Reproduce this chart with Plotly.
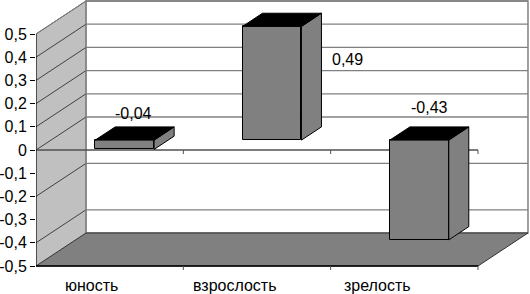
import plotly.graph_objects as go

# ---- data ----
categories = ["юность", "взрослость", "зрелость"]
values = [-0.04, 0.49, -0.43]
value_labels = ["-0,04", "0,49", "-0,43"]
y_ticks = [0.5, 0.4, 0.3, 0.2, 0.1, 0.0, -0.1, -0.2, -0.3, -0.4, -0.5]
y_tick_labels = ["0,5", "0,4", "0,3", "0,2", "0,1", "0", "-0,1", "-0,2", "-0,3", "-0,4", "-0,5"]
grid_values = [0.5, 0.4, 0.3, 0.2, 0.1, 0.0, -0.2, -0.4]

# ---- 3D-look geometry (in axis units) ----
W, H = 530, 294
ML = 36
PX_X = 147.33          # pixels per category
PX_Y = 232.0           # pixels per value unit
X_RANGE = [-0.5, -0.5 + (W - ML) / PX_X]
Y_RANGE = [(150 - H) / PX_Y, 150 / PX_Y]
DX, DY = 50 / PX_X, 33 / PX_Y          # full depth offset of the walls
F0, FD = 0.30, 0.40                    # bar front depth / bar depth (fraction)
BAR_W = 0.40
VMIN, VMAX = -0.5, 0.5
XL, XR = -0.5, len(categories) - 0.5

FONT = "Liberation Sans, Arial, sans-serif"
GREY = "#808080"
LIGHT = "#c0c0c0"


def path(pts):
    return "M " + " L ".join(f"{x},{y}" for x, y in pts) + " Z"


shapes = []
# side wall
shapes.append(dict(type="path", layer="below", xref="x", yref="y",
                   path=path([(XL, VMAX), (XL + DX, VMAX + DY), (XL + DX, VMIN + DY), (XL, VMIN)]),
                   fillcolor=LIGHT, line=dict(width=0)))
# back wall
shapes.append(dict(type="rect", layer="below", xref="x", yref="y",
                   x0=XL + DX, x1=XR + DX, y0=VMIN + DY, y1=VMAX + DY,
                   fillcolor="white", line=dict(color=GREY, width=1.5)))
# gridlines on back wall and side wall
for g in grid_values:
    shapes.append(dict(type="line", layer="below", xref="x", yref="y",
                       x0=XL + DX, x1=XR + DX, y0=g + DY, y1=g + DY,
                       line=dict(color=GREY, width=1.3)))
    shapes.append(dict(type="line", layer="below", xref="x", yref="y",
                       x0=XL, x1=XL + DX, y0=g, y1=g + DY,
                       line=dict(color="#202020", width=0.8)))
# side wall back edge
shapes.append(dict(type="line", layer="below", xref="x", yref="y",
                   x0=XL + DX, x1=XL + DX, y0=VMIN + DY, y1=VMAX + DY,
                   line=dict(color=GREY, width=1)))
# floor
shapes.append(dict(type="path", layer="below", xref="x", yref="y",
                   path=path([(XL, VMIN), (XL + DX, VMIN + DY), (XR + DX, VMIN + DY), (XR, VMIN)]),
                   fillcolor=GREY, line=dict(color="#303030", width=1)))
shapes.append(dict(type="line", layer="below", xref="x", yref="y",
                   x0=XL, x1=XR, y0=VMIN, y1=VMIN, line=dict(color="black", width=1.5)))
# front zero line
shapes.append(dict(type="line", layer="below", xref="x", yref="y",
                   x0=XL, x1=XR, y0=0, y1=0, line=dict(color="#505050", width=1.3)))
# category tick marks
for k in range(1, len(categories) + 1):
    for yv in (0, VMIN):
        shapes.append(dict(type="line", layer="below", xref="x", yref="y",
                           x0=XL + k, x1=XL + k, y0=yv, y1=yv - 4 / PX_Y,
                           line=dict(color="#505050", width=1)))
# value axis line (front-left edge)
shapes.append(dict(type="line", layer="below", xref="x", yref="y",
                   x0=XL, x1=XL, y0=VMIN, y1=VMAX, line=dict(color="black", width=1.2)))
shapes.append(dict(type="line", layer="below", xref="x", yref="y",
                   x0=XL, x1=XL + DX, y0=VMAX, y1=VMAX + DY, line=dict(color=GREY, width=1)))

# bars: front faces through Bar trace, top & side faces from the same values
base = F0 * DY
bar_x = [i + F0 * DX for i in range(len(categories))]
bdx, bdy = FD * DX, FD * DY
for bx, v in zip(bar_x, values):
    l, r = bx - BAR_W / 2, bx + BAR_W / 2
    top = base + max(v, 0)
    bot = base + min(v, 0)
    shapes.append(dict(type="path", layer="above", xref="x", yref="y",
                       path=path([(r, bot), (r, top), (r + bdx, top + bdy), (r + bdx, bot + bdy)]),
                       fillcolor=GREY, line=dict(color="black", width=1)))
    shapes.append(dict(type="path", layer="above", xref="x", yref="y",
                       path=path([(l, top), (r, top), (r + bdx, top + bdy), (l + bdx, top + bdy)]),
                       fillcolor="black", line=dict(color="black", width=1)))

fig = go.Figure()
fig.add_trace(go.Bar(x=bar_x, y=values, base=base, width=BAR_W,
                     marker=dict(color=GREY, line=dict(color="black", width=1)),
                     hoverinfo="skip", showlegend=False))

annotations = []
# category labels
for i, c in enumerate(categories):
    annotations.append(dict(x=i * 0.97 - 0.12, y=VMIN - 0.086, xref="x", yref="y",
                            text=c, showarrow=False, xanchor="center", yanchor="middle",
                            font=dict(family=FONT, size=16, color="black")))
# data labels
label_pos = [(0.163, 0.159), (1.615, 0.388), (2.172, 0.185)]
for (lx, ly), t in zip(label_pos, value_labels):
    annotations.append(dict(x=lx, y=ly, xref="x", yref="y", text=t, showarrow=False,
                            xanchor="center", yanchor="middle",
                            font=dict(family=FONT, size=16, color="black")))

fig.update_layout(
    width=W, height=H, autosize=False,
    margin=dict(l=ML, r=0, t=0, b=0, pad=0),
    paper_bgcolor="white", plot_bgcolor="white",
    shapes=shapes, annotations=annotations,
    bargap=0,
    xaxis=dict(range=X_RANGE, visible=False, fixedrange=True),
    yaxis=dict(range=Y_RANGE, tickvals=y_ticks, ticktext=y_tick_labels,
               ticks="outside", ticklen=5, tickcolor="black", tickwidth=1,
               showgrid=False, zeroline=False, showline=False,
               tickfont=dict(family=FONT, size=16, color="black"), fixedrange=True),
    font=dict(family=FONT, size=16, color="black"),
)

fig.write_html("out.html", config={"displayModeBar": False},
               post_script="document.body.style.margin='0';document.body.style.overflow='hidden';")
